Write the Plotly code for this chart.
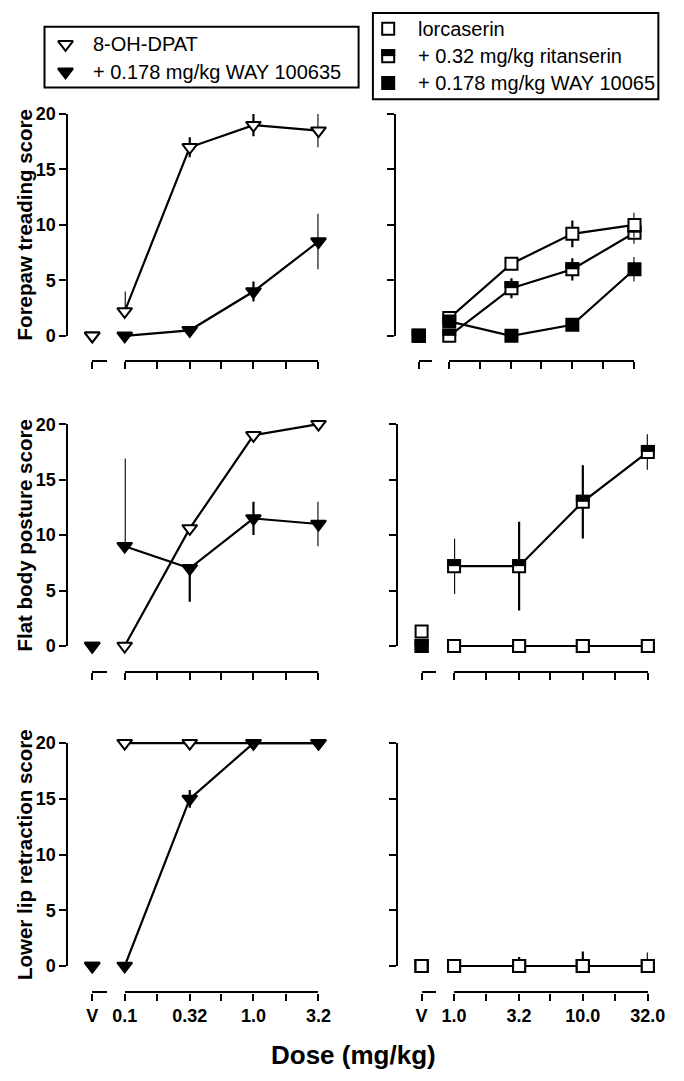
import math
import plotly.graph_objects as go

# ---------------- data ----------------
left_doses = [0.1, 0.32, 1.0, 3.2]
right_doses = [1.0, 3.2, 10.0, 32.0]
left_tick_doses = [0.1, 0.178, 0.32, 0.56, 1.0, 1.78, 3.2]
left_tick_text = ["0.1", "", "0.32", "", "1.0", "", "3.2"]
right_tick_doses = [1.0, 1.78, 3.2, 5.6, 10.0, 17.8, 32.0]
right_tick_text = ["1.0", "", "3.2", "", "10.0", "", "32.0"]
y_ticks = [0, 5, 10, 15, 20]
row_titles = ["Forepaw treading score", "Flat body posture score", "Lower lip retraction score"]
x_title = "Dose (mg/kg)"
vehicle_label = "V"
left_names = ["8-OH-DPAT", "+ 0.178 mg/kg WAY 100635"]
right_names = ["lorcaserin", "+ 0.32 mg/kg ritanserin", "+ 0.178 mg/kg WAY 10065"]

# Forepaw treading - 8-OH-DPAT panel
fore_dpat_v = 0.0
fore_dpat = [2.2, 17.0, 19.0, 18.5]
fore_dpat_up = [1.8, 0.9, 1.0, 1.5]
fore_dpat_dn = [0.0, 0.9, 1.0, 1.5]
fore_way_v = 0.0
fore_way = [0.0, 0.5, 4.0, 8.5]
fore_way_up = [0.0, 0.0, 0.9, 2.5]
fore_way_dn = [0.0, 0.0, 0.9, 2.5]

# Flat body posture - 8-OH-DPAT panel
flat_dpat_v = 0.0
flat_dpat = [0.0, 10.6, 19.0, 20.0]
flat_dpat_up = [0.0, 0.0, 0.0, 0.0]
flat_dpat_dn = [0.0, 0.0, 0.0, 0.0]
flat_way_v = 0.0
flat_way = [9.0, 7.0, 11.5, 11.0]
flat_way_up = [7.9, 0.0, 1.5, 2.0]
flat_way_dn = [0.0, 3.0, 1.5, 2.0]

# Lower lip retraction - 8-OH-DPAT panel
lip_dpat_v = 0.0
lip_dpat = [20.0, 20.0, 20.0, 20.0]
lip_dpat_up = [0.0, 0.0, 0.0, 0.0]
lip_dpat_dn = [0.0, 0.0, 0.0, 0.0]
lip_way_v = 0.0
lip_way = [0.0, 15.0, 20.0, 20.0]
lip_way_up = [0.0, 0.8, 0.0, 0.0]
lip_way_dn = [0.0, 0.8, 0.0, 0.0]

# Forepaw treading - lorcaserin panel
fore_lor_v = 0.0
fore_lor = [1.6, 6.5, 9.2, 10.0]
fore_lor_up = [0.0, 0.6, 1.2, 1.1]
fore_lor_dn = [0.0, 0.4, 1.2, 1.1]
fore_rit_v = 0.0
fore_rit = [0.0, 4.3, 6.0, 9.3]
fore_rit_up = [0.0, 0.9, 1.0, 1.0]
fore_rit_dn = [0.0, 0.9, 1.0, 1.0]
fore_wayr_v = 0.0
fore_wayr = [1.3, 0.0, 1.0, 6.0]
fore_wayr_up = [0.0, 0.0, 0.0, 1.1]
fore_wayr_dn = [0.0, 0.0, 0.0, 1.1]

# Flat body posture - lorcaserin panel
flat_lor_v = 1.3
flat_lor_v_up = 0.6
flat_lor = [0.0, 0.0, 0.0, 0.0]
flat_lor_up = [0.0, 0.0, 0.0, 0.0]
flat_lor_dn = [0.0, 0.0, 0.0, 0.0]
flat_rit_v = 0.0
flat_rit = [7.2, 7.2, 13.0, 17.5]
flat_rit_up = [2.5, 4.0, 3.3, 1.6]
flat_rit_dn = [2.5, 4.0, 3.3, 1.6]
flat_wayr_v = 0.0
flat_wayr = [0.0, 0.0, 0.0, 0.0]
flat_wayr_up = [0.0, 0.0, 0.0, 0.0]
flat_wayr_dn = [0.0, 0.0, 0.0, 0.0]

# Lower lip retraction - lorcaserin panel
lip_lor_v = 0.0
lip_lor = [0.0, 0.0, 0.0, 0.0]
lip_lor_up = [0.0, 0.8, 1.3, 1.2]
lip_lor_dn = [0.0, 0.0, 0.0, 0.0]
lip_rit_v = 0.0
lip_rit = [0.0, 0.0, 0.0, 0.0]
lip_rit_up = [0.0, 0.0, 0.0, 0.0]
lip_rit_dn = [0.0, 0.0, 0.0, 0.0]
lip_wayr_v = 0.0
lip_wayr = [0.0, 0.0, 0.0, 0.0]
lip_wayr_up = [0.0, 0.0, 0.0, 0.0]
lip_wayr_dn = [0.0, 0.0, 0.0, 0.0]

# ---------------- layout geometry (pixels) ----------------
W, H = 684, 1081
FONT = "Liberation Sans, Arial, sans-serif"
LW = 2.2


def fx(px):
    return px / W


def fy(py):
    return 1 - py / H


rows = [dict(y20=106, y0=332, xax=357),
        dict(y20=422, y0=648, xax=673),
        dict(y20=747, y0=974, xax=1000)]
cols = [
    [dict(yx=57, v=(83, 98), m=(117, 320))] * 3,
    [dict(yx=400, v=(425, 439), m=(457, 651)),
     dict(yx=402, v=(428, 443), m=(462, 665)),
     dict(yx=402, v=(428, 443), m=(462, 665))],
]

STY = {
    "open_tri": dict(symbol="triangle-down", color="white", size=13),
    "filled_tri": dict(symbol="triangle-down", color="black", size=13),
    "open_sq": dict(symbol="square", color="white", size=12),
    "half_sq": dict(symbol="square", color="white", size=12, half=True),
    "filled_sq": dict(symbol="square", color="black", size=12),
}


def S(style, v, vup, vdn, vals, up, dn):
    return dict(style=style, v=v, vup=vup, vdn=vdn, vals=vals, up=up, dn=dn)


# (row, col, series in drawing order, reverse drawing order for the V points)
panels = [
    (0, 0, [S("open_tri", fore_dpat_v, 0, 0, fore_dpat, fore_dpat_up, fore_dpat_dn),
            S("filled_tri", fore_way_v, 0, 0, fore_way, fore_way_up, fore_way_dn)], True),
    (0, 1, [S("half_sq", fore_rit_v, 0, 0, fore_rit, fore_rit_up, fore_rit_dn),
            S("open_sq", fore_lor_v, 0, 0, fore_lor, fore_lor_up, fore_lor_dn),
            S("filled_sq", fore_wayr_v, 0, 0, fore_wayr, fore_wayr_up, fore_wayr_dn)], False),
    (1, 0, [S("open_tri", flat_dpat_v, 0, 0, flat_dpat, flat_dpat_up, flat_dpat_dn),
            S("filled_tri", flat_way_v, 0, 0, flat_way, flat_way_up, flat_way_dn)], False),
    (1, 1, [S("half_sq", flat_rit_v, 0, 0, flat_rit, flat_rit_up, flat_rit_dn),
            S("filled_sq", flat_wayr_v, 0, 0, flat_wayr, flat_wayr_up, flat_wayr_dn),
            S("open_sq", flat_lor_v, flat_lor_v_up, 0, flat_lor, flat_lor_up, flat_lor_dn)], False),
    (2, 0, [S("open_tri", lip_dpat_v, 0, 0, lip_dpat, lip_dpat_up, lip_dpat_dn),
            S("filled_tri", lip_way_v, 0, 0, lip_way, lip_way_up, lip_way_dn)], False),
    (2, 1, [S("half_sq", lip_rit_v, 0, 0, lip_rit, lip_rit_up, lip_rit_dn),
            S("filled_sq", lip_wayr_v, 0, 0, lip_wayr, lip_wayr_up, lip_wayr_dn),
            S("open_sq", lip_lor_v, 0, 0, lip_lor, lip_lor_up, lip_lor_dn)], False),
]


def aid(letter, n):
    return letter if n == 1 else f"{letter}{n}"


def akey(letter, n):
    return f"{letter}axis" if n == 1 else f"{letter}axis{n}"


fig = go.Figure()
layout_axes = {}
tickfont = dict(family=FONT, size=18, color="black", weight="bold")


def add_marker_traces(x, y, up, dn, sty, xa, ya, with_line):
    st = STY[sty]
    fig.add_trace(go.Scatter(
        x=x, y=y, xaxis=xa, yaxis=ya,
        mode="lines+markers" if with_line else "markers",
        line=dict(color="black", width=LW),
        marker=dict(symbol=st["symbol"], size=st["size"], color=st["color"],
                    line=dict(color="black", width=2)),
        error_y=dict(type="data", symmetric=False, array=up, arrayminus=dn,
                     color="black", thickness=LW, width=0),
        cliponaxis=False, showlegend=False, hoverinfo="skip"))
    if st.get("half"):
        fig.add_trace(go.Scatter(
            x=x, y=y, xaxis=xa, yaxis=ya, mode="markers",
            marker=dict(symbol="line-ew", size=10, color="black", angle=180, standoff=3.5,
                        line=dict(color="black", width=7)),
            cliponaxis=False, showlegend=False, hoverinfo="skip"))


for k, (r, c, series, v_reverse) in enumerate(panels):
    rg = rows[r]
    cg = cols[c][r]
    nxm, nxv = 2 * k + 1, 2 * k + 2
    nyd, nya = 2 * k + 1, 2 * k + 2
    doses = left_doses if c == 0 else right_doses
    tdoses = left_tick_doses if c == 0 else right_tick_doses
    ttext = left_tick_text if c == 0 else right_tick_text
    bottom = r == 2
    ppu = (rg["y0"] - rg["y20"]) / 20.0
    pad = 20
    # data y axis (hidden)
    layout_axes[akey("y", nyd)] = dict(
        domain=[fy(rg["xax"]), fy(rg["y20"] - pad)],
        range=[-(rg["xax"] - rg["y0"]) / ppu, 20 + pad / ppu],
        anchor=aid("x", nxm), visible=False, fixedrange=True)
    # display y axis
    layout_axes[akey("y", nya)] = dict(
        domain=[fy(rg["y0"]), fy(rg["y20"])], range=[0, 20],
        anchor="free", position=fx(cg["yx"]),
        showline=True, linecolor="black", linewidth=LW,
        ticks="outside", ticklen=7, tickwidth=LW, tickcolor="black",
        tickvals=y_ticks, showticklabels=(c == 0), tickfont=tickfont,
        showgrid=False, zeroline=False, fixedrange=True)
    common_x = dict(showline=True, linecolor="black", linewidth=LW,
                    ticks="outside", ticklen=7, tickwidth=LW, tickcolor="black",
                    showticklabels=bottom, tickfont=tickfont,
                    showgrid=False, zeroline=False, fixedrange=True,
                    anchor=aid("y", nyd), side="bottom")
    layout_axes[akey("x", nxm)] = dict(
        domain=[fx(cg["m"][0]), fx(cg["m"][1])],
        range=[math.log10(tdoses[0]), math.log10(tdoses[-1])],
        tickvals=[math.log10(t) for t in tdoses], ticktext=ttext, **common_x)
    layout_axes[akey("x", nxv)] = dict(
        domain=[fx(cg["v"][0]), fx(cg["v"][1])], range=[0, 1],
        tickvals=[0], ticktext=[vehicle_label], **common_x)
    # dummy trace to create display-axis subplot
    fig.add_trace(go.Scatter(x=[None], y=[None], xaxis=aid("x", nxm), yaxis=aid("y", nya),
                             showlegend=False, hoverinfo="skip"))
    xs = [math.log10(d) for d in doses]
    v_series = list(reversed(series)) if v_reverse else series
    for s in v_series:
        add_marker_traces([0], [s["v"]], [s["vup"]], [s["vdn"]], s["style"],
                          aid("x", nxv), aid("y", nyd), False)
    for s in series:
        add_marker_traces(xs, s["vals"], s["up"], s["dn"], s["style"],
                          aid("x", nxm), aid("y", nyd), True)

# ---------------- legends (pixel-coordinate overlay subplot) ----------------
NL = 13
layout_axes[akey("x", NL)] = dict(domain=[0, 1], range=[0, W], visible=False,
                                  anchor=aid("y", NL), fixedrange=True)
layout_axes[akey("y", NL)] = dict(domain=[0, 1], range=[H, 0], visible=False,
                                  anchor=aid("x", NL), fixedrange=True)

left_leg_styles = ["open_tri", "filled_tri"]
left_leg_rows = [35, 63]
right_leg_styles = ["open_sq", "half_sq", "filled_sq"]
right_leg_rows = [19, 47, 74.5]

annotations = []
for sty, yy, name in zip(left_leg_styles, left_leg_rows, left_names):
    add_marker_traces([55], [yy], [0], [0], sty, aid("x", NL), aid("y", NL), False)
    annotations.append(dict(x=fx(82), y=fy(yy), xref="paper", yref="paper", text=name,
                            showarrow=False, xanchor="left", yanchor="middle",
                            font=dict(family=FONT, size=20, color="black")))
for sty, yy, name in zip(right_leg_styles, right_leg_rows, right_names):
    add_marker_traces([393], [yy], [0], [0], sty, aid("x", NL), aid("y", NL), False)
    annotations.append(dict(x=fx(422), y=fy(yy), xref="paper", yref="paper", text=name,
                            showarrow=False, xanchor="left", yanchor="middle",
                            font=dict(family=FONT, size=20, color="black")))

shapes = [
    dict(type="rect", xref="paper", yref="paper", x0=fx(33), x1=fx(362), y0=fy(17), y1=fy(79),
         line=dict(color="black", width=2), fillcolor="rgba(0,0,0,0)"),
    dict(type="rect", xref="paper", yref="paper", x0=fx(377), x1=fx(676), y0=fy(3), y1=fy(91),
         line=dict(color="black", width=2), fillcolor="rgba(0,0,0,0)"),
]

for rg, title in zip(rows, row_titles):
    annotations.append(dict(x=fx(12), y=fy((rg["y0"] + rg["y20"]) / 2), xref="paper", yref="paper",
                            text=title, textangle=-90, showarrow=False,
                            xanchor="center", yanchor="middle",
                            font=dict(family=FONT, size=20.5, color="black", weight="bold")))
annotations.append(dict(x=fx(357), y=fy(1065), xref="paper", yref="paper", text=x_title,
                        showarrow=False, xanchor="center", yanchor="middle",
                        font=dict(family=FONT, size=26, color="black", weight="bold")))

fig.update_layout(
    width=W, height=H, autosize=False,
    margin=dict(l=0, r=0, t=0, b=0),
    paper_bgcolor="white", plot_bgcolor="rgba(0,0,0,0)",
    showlegend=False, annotations=annotations, shapes=shapes,
    **layout_axes)

fig.write_html("out.html", config={"displayModeBar": False},
               post_script="document.body.style.margin='0';")
